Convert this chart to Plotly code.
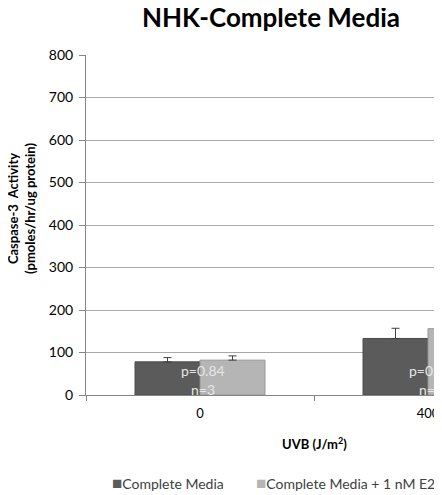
import plotly.graph_objects as go

categories = ["0", "400"]
series_names = ["Complete Media", "Complete Media + 1 nM E2"]
series_colors = ["#5b5b5b", "#b5b5b5"]
cm_values = [78, 133]
cm_errors = [10, 24]
e2_values = [82, 156]
e2_errors = [10, 16]
p_labels = ["p=0.84", "p=0.45"]
n_labels = ["n=3", "n=3"]
y_ticks = [0, 100, 200, 300, 400, 500, 600, 700, 800]

FONT = "Lato"
OFF = 8  # page body margin offset
W, H = 442 - OFF, 495 - OFF
PL, PT, PB = 86, 55, 395  # plot area in page pixels
L, T = PL - OFF, PT - OFF
B = H - (PB - OFF)
plot_w = W - L
plot_h = PB - PT
CAT_W = 228.0


def px(xp):
    return (xp - PL) / plot_w


def py(yp):
    return (PB - yp) / plot_h


fig = go.Figure()
fig.add_trace(go.Bar(
    x=categories, y=cm_values, name=series_names[0],
    marker=dict(color=series_colors[0], line=dict(color="#4a4a4a", width=1)),
    error_y=dict(type="data", array=cm_errors, arrayminus=[0] * len(cm_errors),
                 symmetric=False, color="#3f3f3f", thickness=1, width=4),
))
fig.add_trace(go.Bar(
    x=categories, y=e2_values, name=series_names[1],
    marker=dict(color=series_colors[1], line=dict(color="#959595", width=1)),
    error_y=dict(type="data", array=e2_errors, arrayminus=[0] * len(e2_errors),
                 symmetric=False, color="#3f3f3f", thickness=1, width=4),
))

annotations = []
for i, (p, n) in enumerate(zip(p_labels, n_labels)):
    annotations.append(dict(x=i, y=57, xref="x", yref="y", text=p, showarrow=False,
                            xshift=3, font=dict(family=FONT, size=14, color="#e6e6e6")))
    annotations.append(dict(x=i, y=14, xref="x", yref="y", text=n, showarrow=False,
                            xshift=3, font=dict(family=FONT, size=14, color="#e6e6e6")))

annotations.append(dict(x=px(314), y=py(443), xref="paper", yref="paper",
                        text="<b>UVB (J/m<sup>2</sup>)</b>", showarrow=False,
                        xanchor="center", yanchor="middle",
                        font=dict(family=FONT, size=13, color="#000000")))
annotations.append(dict(x=px(22), y=py(209), xref="paper", yref="paper",
                        text="<b>Caspase-3  Activity<br>(pmoles/hr/ug protein)</b>",
                        textangle=-90, showarrow=False, xanchor="center", yanchor="middle",
                        font=dict(family=FONT, size=13, color="#000000")))

# legend drawn as text entries
legend_x = [110, 254]
for name, color, lx in zip(series_names, series_colors, legend_x):
    annotations.append(dict(x=px(lx), y=py(482), xref="paper", yref="paper",
                            text=f"<span style='color:{color};font-size:17px'>■</span>{name}",
                            showarrow=False, xanchor="left", yanchor="middle",
                            font=dict(family=FONT, size=14, color="#404040")))

fig.update_layout(
    width=W, height=H,
    margin=dict(l=L, r=0, t=T, b=B, pad=0),
    paper_bgcolor="white", plot_bgcolor="white",
    barmode="group", bargap=0.43, bargroupgap=0,
    showlegend=False,
    title=dict(text="<b>NHK-Complete Media</b>", x=(271 - OFF) / W, xanchor="center",
               y=1 - (18 - OFF) / H, yanchor="middle", xref="container", yref="container",
               font=dict(family=FONT, size=26, color="#000000")),
    annotations=annotations,
    font=dict(family=FONT),
)
fig.update_xaxes(
    type="category", range=[-0.5, -0.5 + plot_w / CAT_W],
    tickson="boundaries", ticks="outside", ticklen=5, tickcolor="#868686",
    showline=True, linecolor="#868686", linewidth=1,
    showgrid=False, automargin=False, ticklabelstandoff=6,
    tickfont=dict(family=FONT, size=13, color="#000000"),
)
fig.update_yaxes(
    range=[0, 800], tickvals=y_ticks, ticks="outside", ticklen=6, tickcolor="#868686",
    showline=True, linecolor="#868686", linewidth=1,
    showgrid=True, gridcolor="#a8a8a8", gridwidth=1, zeroline=False,
    automargin=False, ticklabelstandoff=3,
    tickfont=dict(family=FONT, size=14, color="#000000"),
)

fig.write_html("out.html")
